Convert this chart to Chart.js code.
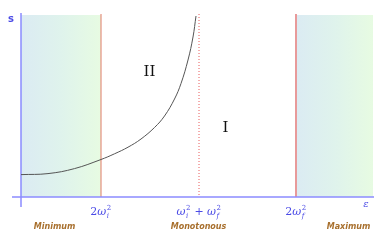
<!DOCTYPE html>
<html lang="en">
<head>
    <meta charset="UTF-8">
    <title>s vs epsilon</title>
    <script src="https://cdn.jsdelivr.net/npm/chart.js"></script>
    <style>
        html, body { margin: 0; padding: 0; background: #fff; }
        .chart-wrapper { width: 388px; height: 241px; }
    </style>
</head>
<body>
    <div class="chart-wrapper">
        <canvas id="phaseChart"></canvas>
    </div>

    <script>
        // curve s(epsilon)
        const epsilon = [0, 27, 53.5, 80, 93.5, 107, 120, 133.5, 143.5, 153.5, 160, 167, 172, 175];
        const sValues = [22.4, 23.4, 28.4, 37.5, 43.2, 49.8, 58, 69.5, 81, 98, 113.5, 137, 160, 181];

        // axis ranges
        const xMax = 352;
        const yMax = 182;

        // special epsilon values: 2wi^2, wi^2 + wf^2, 2wf^2
        const boundaries = [80, 178, 275];

        // region names under the axis
        const regionNames = ['Minimum', 'Monotonous', 'Maximum'];
        const regionNameX = [33.5, 177.5, 327.5];

        // roman numerals inside the plot
        const romanLabels = ['II', 'I'];
        const romanX = [128.5, 204.5];
        const romanY = [125, 69];

        const mathBlue = '#4b4be6';

        // draws things like 2ω with ^2 and _i stacked
        function drawMath(ctx, cx, baseY, pieces) {
            const big = 'italic 11px "DejaVu Serif", serif';
            const upright = '11px "DejaVu Serif", serif';
            const small = '7px "DejaVu Serif", serif';
            const smallIt = 'italic 7px "DejaVu Serif", serif';
            let width = 0;
            pieces.forEach(p => {
                ctx.font = p.italic ? big : upright;
                let w = ctx.measureText(p.text).width;
                if (p.sup || p.sub) {
                    ctx.font = small;
                    const a = ctx.measureText(p.sup || '').width;
                    ctx.font = smallIt;
                    const b = ctx.measureText(p.sub || '').width;
                    w += Math.max(a, b) + 1;
                }
                p.w = w;
                width += w;
            });
            let x = cx - width / 2;
            ctx.textAlign = 'left';
            ctx.textBaseline = 'alphabetic';
            ctx.fillStyle = mathBlue;
            pieces.forEach(p => {
                ctx.font = p.italic ? big : upright;
                ctx.fillText(p.text, x, baseY);
                const tw = ctx.measureText(p.text).width;
                if (p.sup) {
                    ctx.font = small;
                    ctx.fillText(p.sup, x + tw + 0.5, baseY - 5);
                }
                if (p.sub) {
                    ctx.font = smallIt;
                    ctx.fillText(p.sub, x + tw + 0.5, baseY + 3);
                }
                x += p.w;
            });
        }

        const tickPieces = [
            [{ text: '2', italic: false }, { text: 'ω', italic: true, sup: '2', sub: 'i' }],
            [{ text: 'ω', italic: true, sup: '2', sub: 'i' }, { text: ' + ', italic: false },
             { text: 'ω', italic: true, sup: '2', sub: 'f' }],
            [{ text: '2', italic: false }, { text: 'ω', italic: true, sup: '2', sub: 'f' }]
        ];

        const decorPlugin = {
            id: 'decor',
            beforeDatasetsDraw(chart) {
                const ctx = chart.ctx;
                const xs = chart.scales.x;
                const ys = chart.scales.y;
                const top = ys.getPixelForValue(yMax);
                const bottom = ys.getPixelForValue(0);

                // shaded regions, blue on the left fading to green on the right
                const shade = (from, to) => {
                    const x0 = xs.getPixelForValue(from);
                    const x1 = xs.getPixelForValue(to);
                    const g = ctx.createLinearGradient(x0, 0, x1, 0);
                    g.addColorStop(0, '#dbebf3');
                    g.addColorStop(0.5, '#dff3ec');
                    g.addColorStop(1, '#e7fbe2');
                    ctx.fillStyle = g;
                    ctx.fillRect(x0, top, x1 - x0, bottom - top);
                };
                ctx.save();
                shade(0, boundaries[0]);
                shade(boundaries[2], xMax);

                // vertical boundaries
                const vline = (val, color, width, dash) => {
                    const x = xs.getPixelForValue(val);
                    ctx.beginPath();
                    ctx.setLineDash(dash);
                    ctx.strokeStyle = color;
                    ctx.lineWidth = width;
                    ctx.moveTo(x, top - 1);
                    ctx.lineTo(x, bottom);
                    ctx.stroke();
                };
                vline(boundaries[0], '#e07b66', 1, []);
                vline(boundaries[1], '#e85a5a', 1, [1, 2]);
                vline(boundaries[2], '#e89a9a', 2, []);
                ctx.setLineDash([]);

                // axes
                ctx.strokeStyle = '#8c8cff';
                ctx.lineWidth = 1.5;
                const x0 = xs.getPixelForValue(0);
                ctx.beginPath();
                ctx.moveTo(x0 - 9, bottom);
                ctx.lineTo(xs.getPixelForValue(xMax) + 1, bottom);
                ctx.moveTo(x0, top - 2);
                ctx.lineTo(x0, bottom + 10);
                ctx.stroke();
                ctx.restore();
            },
            afterDatasetsDraw(chart) {
                const ctx = chart.ctx;
                const xs = chart.scales.x;
                const ys = chart.scales.y;
                const bottom = ys.getPixelForValue(0);
                ctx.save();

                // axis names
                ctx.fillStyle = mathBlue;
                ctx.font = 'bold 10px "DejaVu Sans", sans-serif';
                ctx.textAlign = 'center';
                ctx.textBaseline = 'middle';
                ctx.fillText('s', 11, ys.getPixelForValue(yMax) + 4);
                ctx.font = 'italic 10px "DejaVu Serif", serif';
                ctx.fillText('ε', xs.getPixelForValue(xMax) - 7, bottom + 7);

                // tick labels
                boundaries.forEach((b, i) => {
                    drawMath(ctx, xs.getPixelForValue(b), bottom + 18, tickPieces[i]);
                });

                // region names
                ctx.fillStyle = '#a8702e';
                ctx.font = 'italic bold 8px "DejaVu Sans", sans-serif';
                ctx.textAlign = 'center';
                ctx.textBaseline = 'middle';
                regionNames.forEach((n, i) => {
                    ctx.fillText(n, xs.getPixelForValue(regionNameX[i]), bottom + 30);
                });

                // roman numerals
                ctx.fillStyle = '#111';
                ctx.font = '15px "DejaVu Serif", serif';
                romanLabels.forEach((r, i) => {
                    ctx.fillText(r, xs.getPixelForValue(romanX[i]), ys.getPixelForValue(romanY[i]));
                });
                ctx.restore();
            }
        };

        const ctx = document.getElementById('phaseChart').getContext('2d');
        new Chart(ctx, {
            type: 'line',
            data: {
                datasets: [{
                    data: epsilon.map((e, i) => ({ x: e, y: sValues[i] })),
                    borderColor: '#555',
                    borderWidth: 1,
                    pointRadius: 0,
                    tension: 0.4,
                    fill: false
                }]
            },
            options: {
                responsive: true,
                maintainAspectRatio: false,
                animation: false,
                layout: { padding: { left: 21, right: 15, top: 15, bottom: 44 } },
                plugins: {
                    legend: { display: false },
                    tooltip: { enabled: false }
                },
                scales: {
                    x: { type: 'linear', min: 0, max: xMax, display: false },
                    y: { type: 'linear', min: 0, max: yMax, display: false }
                }
            },
            plugins: [decorPlugin]
        });
    </script>
</body>
</html>
